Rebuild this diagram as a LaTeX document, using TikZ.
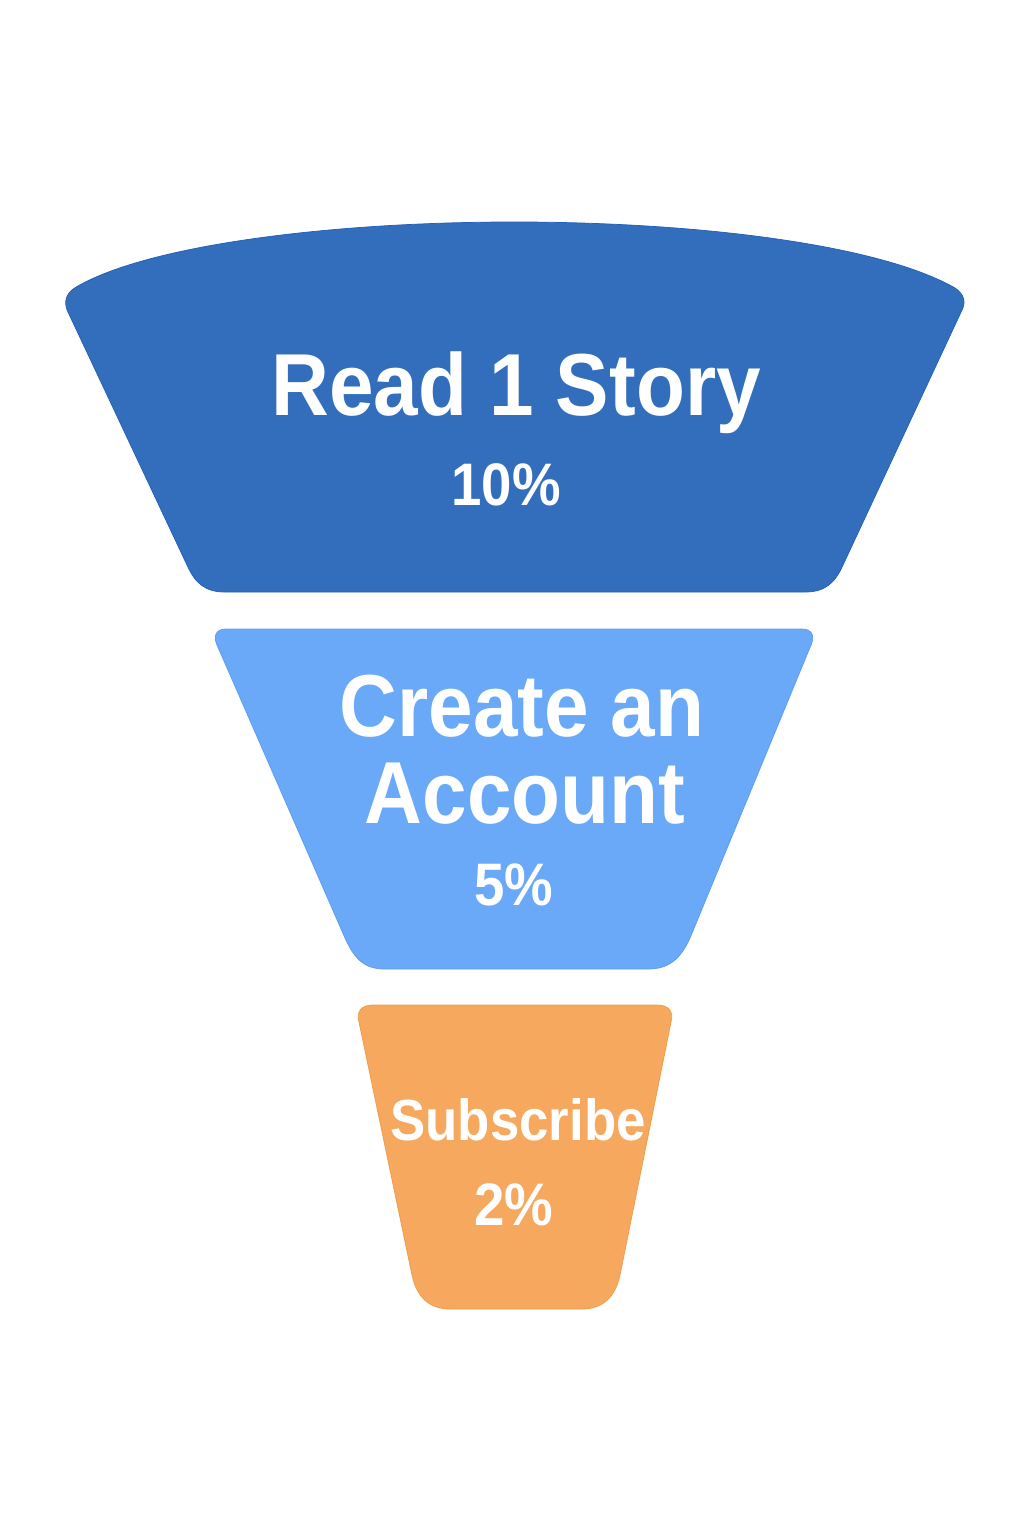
\documentclass[tikz,border=0pt]{standalone}
\usepackage{fontspec}
\setmainfont{Liberation Sans}[FakeStretch=0.91]

\definecolor{readblue}{HTML}{336EBD}
\definecolor{readedge}{HTML}{2460B8}
\definecolor{accountblue}{HTML}{6AA8F8}
\definecolor{accountedge}{HTML}{5C9DF2}
\definecolor{subscribeorange}{HTML}{F5A85E}
\definecolor{subscribeedge}{HTML}{F29B48}

\tikzset{every picture/.style={line width=0.75pt}}
\tikzset{
  stagetitle/.style={text=white,font=\fontsize{88}{96}\selectfont\bfseries,anchor=base,inner sep=0pt},
  stagepct/.style={text=white,font=\fontsize{60}{66}\selectfont\bfseries,anchor=base,inner sep=0pt},
  smalltitle/.style={text=white,font=\fontsize{58}{64}\selectfont\bfseries,anchor=base,inner sep=0pt}
}

\begin{document}
\begin{tikzpicture}[x=1pt,y=1pt,yscale=-1,xscale=1]
\useasboundingbox (0,0) rectangle (1024,1536);

%Shape: Funnel top [id:read]
\draw [draw=readedge,fill=readblue]  (68,312) -- (187,565) .. controls (195,583) and (205,592) .. (225,592) -- (805,592) .. controls (825,592) and (835,583) .. (843,565) -- (962,310) .. controls (966,302) and (964,294) .. (955,288) .. controls (880,245) and (700,222) .. (514,222) .. controls (330,222) and (150,245) .. (78,286) .. controls (66,292) and (63,302) .. (68,312) -- cycle ;

%Shape: Funnel middle [id:account]
\draw [draw=accountedge,fill=accountblue]  (217,645) -- (345,938) .. controls (355,960) and (365,969) .. (385,969) -- (648,969) .. controls (668,969) and (680,960) .. (690,938) -- (811,645) .. controls (815,636) and (812,629) .. (802,629) -- (226,629) .. controls (216,629) and (213,636) .. (217,645) -- cycle ;

%Shape: Funnel bottom [id:subscribe]
\draw [draw=subscribeedge,fill=subscribeorange]  (359,1022) -- (412,1275) .. controls (417,1298) and (430,1309) .. (450,1309) -- (582,1309) .. controls (602,1309) and (615,1298) .. (620,1275) -- (671,1022) .. controls (674,1011) and (668,1005) .. (657,1005) -- (373,1005) .. controls (362,1005) and (356,1011) .. (359,1022) -- cycle ;


% Text Node
\node [stagetitle] (readtitle) at (516,415) {Read 1 Story};
% Text Node
\node [stagepct] (readpct) at (506,505) {10\%};
% Text Node
\node [stagetitle] (accounttitle) at (522,736) {Create an};
% Text Node
\node [stagetitle] (accounttitle2) at (525,823) {Account};
% Text Node
\node [stagepct] (accountpct) at (514,905) {5\%};
% Text Node
\node [smalltitle] (subscribetitle) at (518,1140) {Subscribe};
% Text Node
\node [stagepct] (subscribepct) at (514,1225) {2\%};

\end{tikzpicture}
\end{document}
